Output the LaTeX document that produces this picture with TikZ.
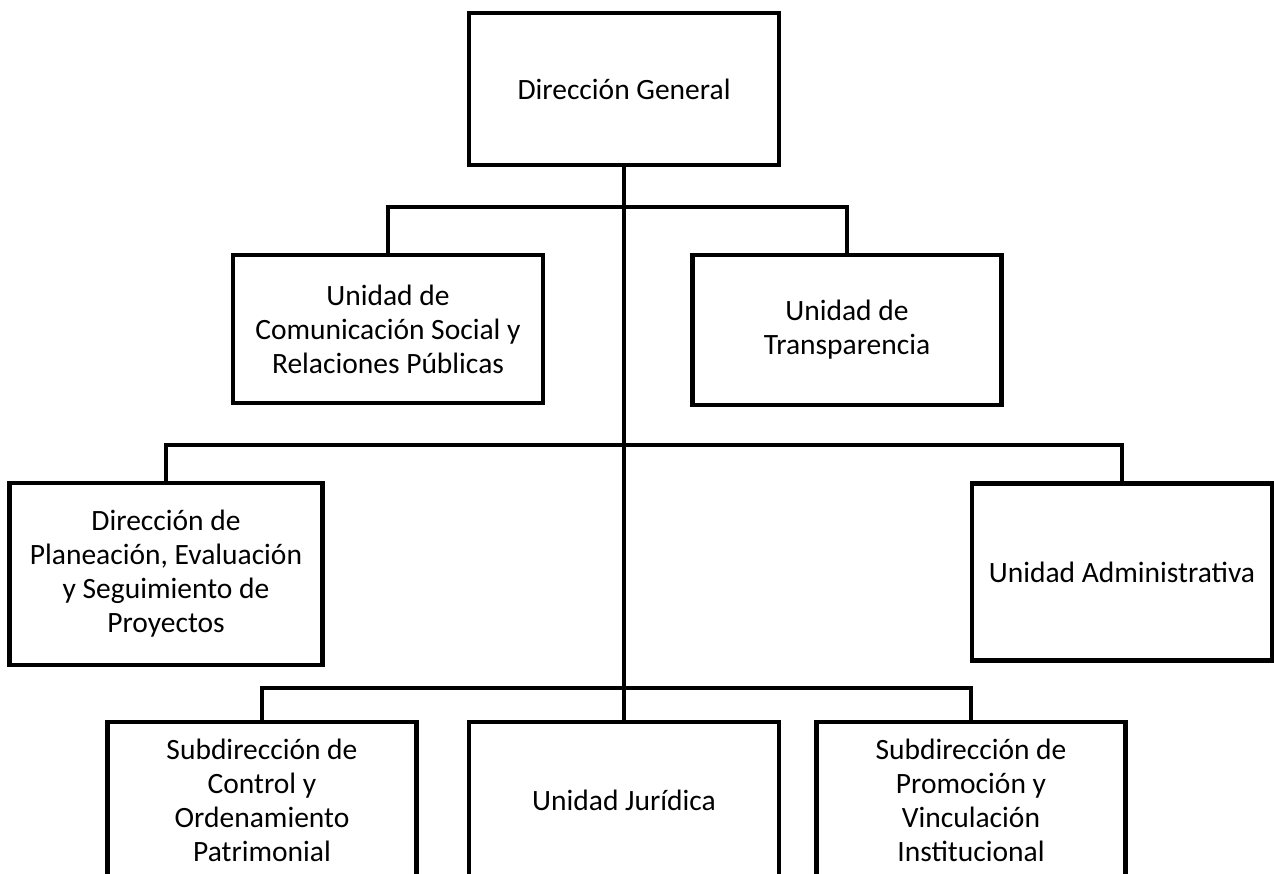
\documentclass[tikz,border=0pt]{standalone}
\usepackage{fontspec}
\setmainfont{Carlito}

\begin{document}
\begin{tikzpicture}[x=1pt,y=-1pt,
	unidad/.style={draw, line width=4.5pt, align=center, inner sep=0pt, font=\fontsize{29.5}{34}\selectfont},
	rama/.style={line width=4.5pt}]
	\useasboundingbox (0,0) rectangle (1274,873);
	\clip (0,0) rectangle (1274,873);
	% nivel 1
	\node[unidad, minimum width=310, minimum height=152] (dg) at (624,89) {Dirección General};
	% nivel 2
	\node[unidad, minimum width=310, minimum height=148] (ucs) at (388,329) {Unidad de\\Comunicación Social y\\Relaciones Públicas};
	\node[unidad, minimum width=309, minimum height=150] (ut) at (847,330) {Unidad de\\Transparencia};
	% nivel 3
	\node[unidad, minimum width=313, minimum height=182] (dpe) at (166,574) {Dirección de\\Planeación, Evaluación\\y Seguimiento de\\Proyectos};
	\node[unidad, minimum width=300, minimum height=177] (ua) at (1122,572) {Unidad Administrativa};
	% nivel 4
	\node[unidad, minimum width=309, minimum height=156] (sco) at (262,800) {Subdirección de\\Control y\\Ordenamiento\\Patrimonial};
	\node[unidad, minimum width=310, minimum height=156] (uj) at (624,800) {Unidad Jurídica};
	\node[unidad, minimum width=309, minimum height=156] (spv) at (971,800) {Subdirección de\\Promoción y\\Vinculación\\Institucional};
	% lineas
	\coordinate (b1) at (624,207);
	\coordinate (b2) at (624,445);
	\coordinate (b3) at (624,688);
	\draw[rama] (dg.south) -- (uj.north);
	\draw[rama] (ucs.north) |- (b1) -| (ut.north);
	\draw[rama] (dpe.north) |- (b2) -| (ua.north);
	\draw[rama] (sco.north) |- (b3) -| (spv.north);
\end{tikzpicture}
\end{document}
